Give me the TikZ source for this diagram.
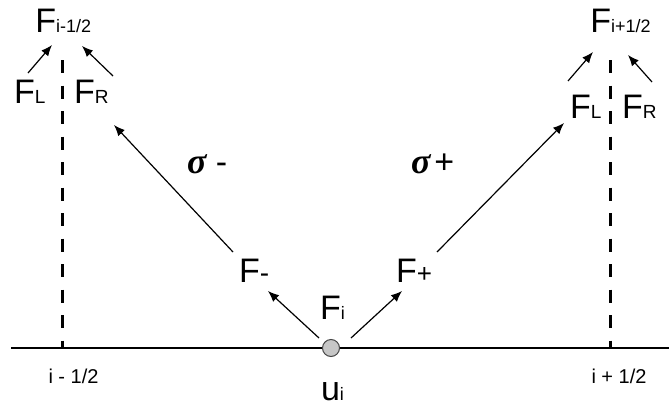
\documentclass[tikz,border=0pt]{standalone}
\usepackage{fontspec}
\setmainfont{Liberation Sans}
\newfontfamily\sigmafont{Liberation Serif}
\usetikzlibrary{arrows.meta}
\newcommand{\fs}[1]{\fontsize{#1}{#1}\selectfont}
\begin{document}
\begin{tikzpicture}[x=1pt,y=-1pt,
  lbl/.style={anchor=base west,inner sep=0pt,outer sep=0pt,font=\fs{34}},
  small/.style={anchor=base west,inner sep=0pt,outer sep=0pt,font=\fs{20}},
  arr/.style={line width=1.2pt,-{Latex[length=11pt,width=9pt]}},
  axis/.style={line width=2.7pt},
  cut/.style={line width=3pt,dash pattern=on 13pt off 12.5pt},
  cell/.style={circle,draw=gray!55!black,fill=gray!45,line width=1pt,minimum size=17pt,inner sep=0pt}]
\useasboundingbox (0,0) rectangle (669,407);

% axis and interfaces
\coordinate (axL) at (11,348);
\coordinate (axR) at (669,348);
\draw[axis] (axL) -- (axR);
\coordinate (dLt) at (62.5,60);
\coordinate (dLb) at (62.5,348);
\coordinate (dRt) at (610,60);
\coordinate (dRb) at (610,348);
\draw[cut] (dLt) -- (dLb);
\draw[cut] (dRt) -- (dRb);
\node[cell] (c) at (331,348) {};

% labels
\node[lbl] (Fim) at (35.3,32) {F{\fs{18}i-1/2}};
\node[lbl] (Fip) at (590.3,32) {F{\fs{18}i+1/2}};
\node[lbl] (FLl) at (14,103) {F{\fs{19}L}};
\node[lbl] (FRl) at (74,103) {F{\fs{19}R}};
\node[lbl] (FLr) at (570,118) {F{\fs{19}L}};
\node[lbl] (FRr) at (622,118) {F{\fs{19}R}};
\node[lbl] (sm) at (187,173) {{\sigmafont\fs{36}\bfseries\itshape σ} -};
\node[lbl] (sp) at (411,173) {{\sigmafont\fs{36}\bfseries\itshape σ}\hspace{4pt}+};
\node[lbl] (Fm) at (239,282) {F{\fs{28}-}};
\node[lbl] (Fp) at (396,282) {F{\fs{26}+}};
\node[lbl] (Fi) at (320,319) {F{\fs{18}i}};
\node[lbl] (ui) at (321,400) {u{\fs{18}i}};
\node[small] (im) at (48.5,383) {i - 1/2};
\node[small] (ip) at (591.5,383) {i + 1/2};

% arrow end points
\coordinate (s1) at (319,338); \coordinate (t1) at (268,291);
\coordinate (s2) at (351,338); \coordinate (t2) at (402,291);
\coordinate (s3) at (233,252); \coordinate (t3) at (114,125);
\coordinate (s4) at (437,252); \coordinate (t4) at (564,123);
\coordinate (s5) at (28,73);   \coordinate (t5) at (52,45);
\coordinate (s6) at (113,76);  \coordinate (t6) at (82,46);
\coordinate (s7) at (568,81);  \coordinate (t7) at (593,52);
\coordinate (s8) at (652,82);  \coordinate (t8) at (628,55);

\draw[arr] (s1) -- (t1);
\draw[arr] (s2) -- (t2);
\draw[arr] (s3) -- (t3);
\draw[arr] (s4) -- (t4);
\draw[arr] (s5) -- (t5);
\draw[arr] (s6) -- (t6);
\draw[arr] (s7) -- (t7);
\draw[arr] (s8) -- (t8);
\end{tikzpicture}
\end{document}
